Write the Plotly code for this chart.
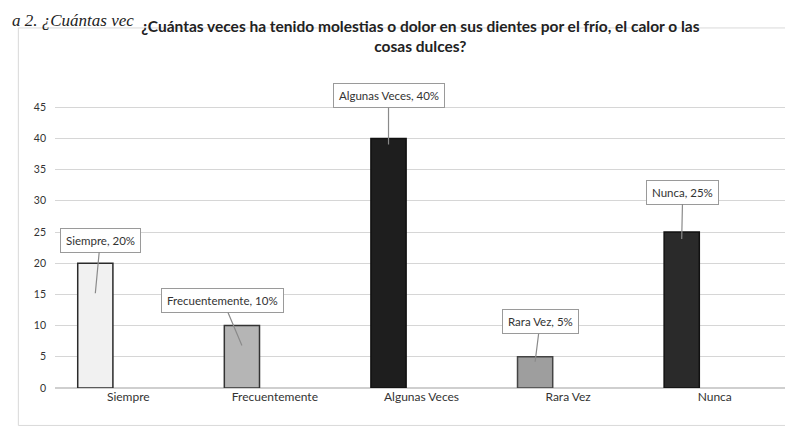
import plotly.graph_objects as go

categories = ["Siempre", "Frecuentemente", "Algunas Veces", "Rara Vez", "Nunca"]
values = [20, 10, 40, 5, 25]
percent_labels = ["20%", "10%", "40%", "5%", "25%"]
y_ticks = [0, 5, 10, 15, 20, 25, 30, 35, 40, 45, 50]
y_ticktext = ["0", "5", "10", "15", "20", "25", "30", "35", "40", "45", ""]

bar_colors = ["#f1f1f1", "#b5b5b5", "#1e1e1e", "#9e9e9e", "#2a2a2a"]
bar_lines = ["#2a2a2a", "#333333", "#111111", "#444444", "#111111"]

# callout styling offsets (pixels): ax, ay, yshift
callout_ax = [5, -19, 0, 5, 1]
callout_ay = [-53, -45, -49, -40, -47]
callout_yshift = [-30, -20, -6, -5, -7]

FONT = "Lato, Open Sans, sans-serif"

fig = go.Figure()
fig.add_trace(go.Bar(
    x=categories, y=values,
    width=0.24, offset=-0.345,
    marker=dict(color=bar_colors, line=dict(color=bar_lines, width=1.5)),
    showlegend=False, hoverinfo="skip",
))

annotations = []
for i, (c, v, p) in enumerate(zip(categories, values, percent_labels)):
    annotations.append(dict(
        x=i - 0.225, y=v, xref="x", yref="y",
        text=f"{c}, {p}", showarrow=True, arrowhead=0, arrowwidth=1.2,
        arrowcolor="#8a8a8a", ax=callout_ax[i], ay=callout_ay[i],
        yshift=callout_yshift[i],
        bgcolor="#ffffff", bordercolor="#9a9a9a", borderwidth=1, borderpad=5,
        font=dict(family=FONT, size=11.5, color="#333333"),
    ))

annotations.append(dict(
    x=-0.062, y=1.215, xref="paper", yref="paper", xanchor="left", yanchor="top",
    text="<i>a 2. ¿Cuántas vec</i>", showarrow=False,
    font=dict(family="Liberation Serif, serif", size=17, color="#222222"),
))

fig.update_layout(
    width=793, height=428,
    margin=dict(l=47, r=13, t=68, b=48),
    paper_bgcolor="#ffffff", plot_bgcolor="#ffffff",
    title=dict(
        text="<b>¿Cuántas veces ha tenido molestias o dolor en sus dientes por el frío, el calor o las<br>cosas dulces?</b>",
        x=0.52, xanchor="center", yref="container", y=0.945, yanchor="top",
        font=dict(family=FONT, size=15.5, color="#222222"),
    ),
    xaxis=dict(
        type="category", range=[-0.5, 4.5], showgrid=False, showline=False,
        ticks="", tickfont=dict(family=FONT, size=12, color="#333333"),
    ),
    yaxis=dict(
        range=[0, 50], tickvals=y_ticks, ticktext=y_ticktext,
        showgrid=True, gridcolor="#d6d6d6", gridwidth=1, zeroline=True,
        zerolinecolor="#cfcfcf", showline=False, ticks="", ticklabelstandoff=8,
        tickfont=dict(family=FONT, size=10.5, color="#333333"),
    ),
    annotations=annotations,
    shapes=[dict(
        type="rect", xref="paper", yref="paper",
        x0=-0.05, x1=1.013, y0=-0.12, y1=1.154,
        line=dict(color="#d9d9d9", width=1), fillcolor="rgba(0,0,0,0)", layer="below",
    )],
)

fig.write_html("out.html")
